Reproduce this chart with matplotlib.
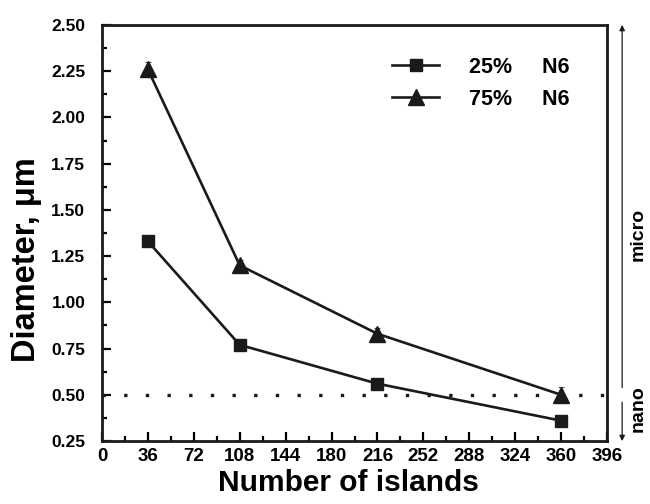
import matplotlib
matplotlib.use("Agg")
import matplotlib.pyplot as plt
from matplotlib.ticker import MultipleLocator

plt.rcParams['font.family'] = ['Liberation Sans', 'DejaVu Sans']
plt.rcParams['font.weight'] = 'bold'

islands = [36, 108, 216, 360]
d25 = [1.33, 0.77, 0.56, 0.36]
d75 = [2.26, 1.20, 0.83, 0.50]
err25 = [0.02, 0.02, 0.02, 0.02]
err75 = [0.04, 0.03, 0.03, 0.04]
labels = ['25%     N6', '75%     N6']
xticks = list(range(0, 397, 36))
yticks = [0.25, 0.50, 0.75, 1.00, 1.25, 1.50, 1.75, 2.00, 2.25, 2.50]
threshold = 0.5

fig = plt.figure(figsize=(6.5, 5.04), dpi=100)
ax = fig.add_axes([102/650, 63/504, 505/650, 416/504])

ax.errorbar(islands, d25, yerr=err25, fmt='none', ecolor='#555555', elinewidth=0.8, capsize=2.5, capthick=0.8)
ax.errorbar(islands, d75, yerr=err75, fmt='none', ecolor='#555555', elinewidth=0.8, capsize=2.5, capthick=0.8)
ax.plot(islands, d25, color='#1a1a1a', lw=1.9, marker='s', ms=9, label=labels[0])
ax.plot(islands, d75, color='#1a1a1a', lw=1.9, marker='^', ms=11, label=labels[1])

ax.axhline(threshold, color='#1a1a1a', lw=2.4, linestyle=(0, (1, 5.5)))

ax.set_xlim(0, 396)
ax.set_ylim(0.25, 2.50)
ax.set_xticks(xticks)
ax.set_yticks(yticks)
ax.set_yticklabels([f'{v:.2f}' for v in yticks])
ax.xaxis.set_minor_locator(MultipleLocator(18))
ax.yaxis.set_minor_locator(MultipleLocator(0.125))
ax.tick_params(which='both', direction='in', top=False, right=False, width=1.6)
ax.tick_params(axis='x', labelsize=13.5, pad=5)
ax.tick_params(axis='y', labelsize=12.5, pad=12)
ax.tick_params(which='major', length=6.5)
ax.tick_params(which='minor', length=3.5)
for s in ax.spines.values():
    s.set_linewidth(2.0)
    s.set_color('#1a1a1a')

ax.set_xlabel('Number of islands', fontsize=21.5, fontweight='bold')
ax.xaxis.set_label_coords(0.488, -0.068)
ax.set_ylabel('Diameter, μm', fontsize=23.5, fontweight='bold')
ax.yaxis.set_label_coords(-0.118, 0.435)

leg = ax.legend(loc='upper right', bbox_to_anchor=(0.965, 0.97), frameon=False, fontsize=15.5,
                handlelength=2.2, handletextpad=1.4, labelspacing=0.5)

# right-side micro/nano annotation
x_line = 1.03
ax.annotate('', xy=(x_line, 1.007), xytext=(x_line, 0.122), xycoords='axes fraction',
            arrowprops=dict(arrowstyle='-|>', color='#1a1a1a', lw=0.9, mutation_scale=8), annotation_clip=False)
ax.annotate('', xy=(x_line, -0.007), xytext=(x_line, 0.100), xycoords='axes fraction',
            arrowprops=dict(arrowstyle='-|>', color='#1a1a1a', lw=0.9, mutation_scale=8), annotation_clip=False)
fig.text(0.981, 0.535, 'micro', rotation=90, ha='center', va='center', fontsize=14, fontweight='bold')
fig.text(0.981, 0.19, 'nano', rotation=90, ha='center', va='center', fontsize=14, fontweight='bold')

fig.savefig('out.png', dpi=100)
